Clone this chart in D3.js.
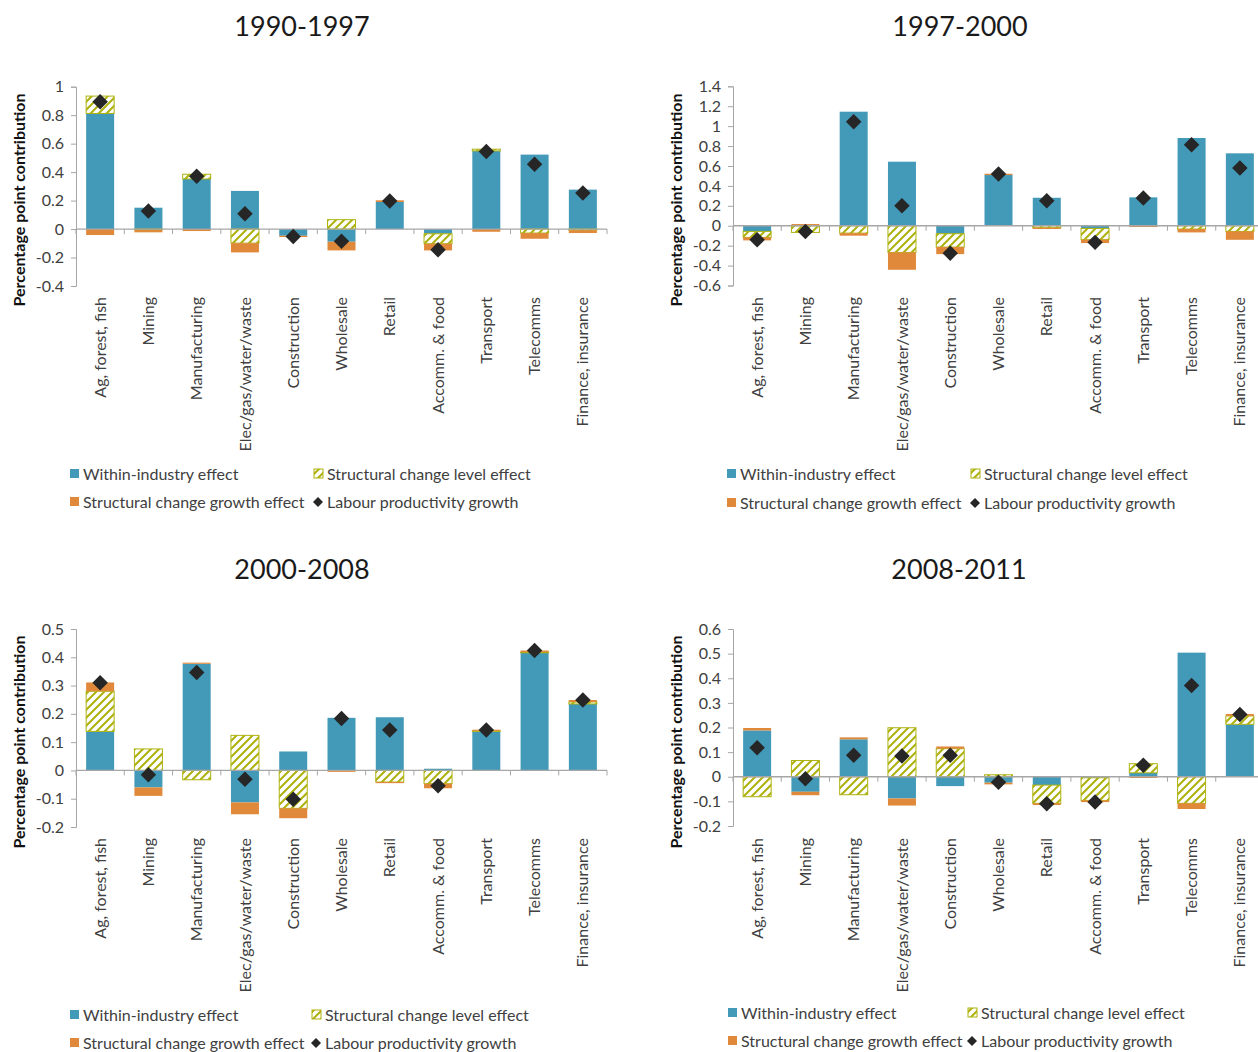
<!DOCTYPE html>
<html><head><meta charset="utf-8">
<script src="https://cdn.jsdelivr.net/npm/d3@7"></script>
<style>
body{margin:0;background:#fff;}
text{font-family:Lato,"Open Sans",sans-serif;}
</style></head>
<body><svg id="chart" width="1258" height="1052"></svg>
<script>
const categories = ["Ag, forest, fish","Mining","Manufacturing","Elec/gas/water/waste","Construction","Wholesale","Retail","Accomm. & food","Transport","Telecomms","Finance, insurance"];
const seriesNames = ["Within-industry effect","Structural change level effect","Structural change growth effect","Labour productivity growth"];
const periods = ["1990-1997","1997-2000","2000-2008","2008-2011"];

// 1990-1997
const within1 = [0.812,0.150,0.352,0.268,-0.047,-0.089,0.190,-0.033,0.549,0.523,0.277];
const level1  = [0.122,-0.004,0.033,-0.099,0,0.066,0,-0.070,0.012,-0.028,-0.009];
const growth1 = [-0.042,-0.019,-0.014,-0.065,-0.009,-0.061,0.012,-0.047,-0.019,-0.040,-0.019];
const lpg1    = [0.894,0.127,0.371,0.108,-0.052,-0.085,0.197,-0.146,0.545,0.455,0.254];
const ticks1  = [-0.4,-0.2,0,0.2,0.4,0.6,0.8,1];

// 1997-2000
const within2 = [-0.057,0,1.145,0.643,-0.080,0.509,0.281,-0.027,0.285,0.881,0.727];
const level2  = [-0.060,-0.067,-0.074,-0.268,-0.134,0,-0.020,-0.113,0,-0.033,-0.057];
const growth2 = [-0.030,0.017,-0.026,-0.174,-0.071,0.013,-0.013,-0.034,-0.013,-0.034,-0.084];
const lpg2    = [-0.141,-0.057,1.045,0.200,-0.275,0.519,0.251,-0.167,0.278,0.814,0.579];
const ticks2  = [-0.6,-0.4,-0.2,0,0.2,0.4,0.6,0.8,1,1.2,1.4];

// 2000-2008
const within3 = [0.138,-0.060,0.377,-0.113,0.067,0.186,0.188,0.006,0.138,0.416,0.235];
const level3  = [0.142,0.076,-0.033,0.124,-0.134,0,-0.041,-0.047,0.002,0.002,0.007];
const growth3 = [0.031,-0.030,0.004,-0.042,-0.035,-0.005,-0.004,-0.016,0.004,0.006,0.007];
const lpg3    = [0.310,-0.015,0.346,-0.031,-0.102,0.184,0.143,-0.054,0.143,0.424,0.249];
const ticks3  = [-0.2,-0.1,0,0.1,0.2,0.3,0.4,0.5];

// 2008-2011
const within4 = [0.188,-0.061,0.152,-0.088,-0.038,-0.024,-0.034,-0.004,0.016,0.504,0.213];
const level4  = [-0.081,0.066,-0.073,0.199,0.114,0.008,-0.074,-0.092,0.037,-0.108,0.034];
const growth4 = [0.010,-0.014,0.008,-0.029,0.009,-0.007,-0.007,-0.007,-0.005,-0.023,0.008];
const lpg4    = [0.118,-0.008,0.087,0.084,0.087,-0.022,-0.110,-0.103,0.047,0.371,0.253];
const ticks4  = [-0.2,-0.1,0,0.1,0.2,0.3,0.4,0.5,0.6];

const BLUE="#4399b8", OLIVE="#adb20f", ORANGE="#e0893a", DARK="#262626", AXIS="#a6a6a6", TXT="#404040";

const svg = d3.select("#chart");
const defs = svg.append("defs");
const pat = defs.append("pattern").attr("id","hatch").attr("patternUnits","userSpaceOnUse")
  .attr("width",8).attr("height",8);
pat.append("rect").attr("width",8).attr("height",8).attr("fill",OLIVE);
pat.append("path").attr("d","M-2,10 L10,-2 M-6,6 L6,-6 M2,14 L14,2")
  .attr("stroke","#fff").attr("stroke-width",3.6);

const panels = [
  {title:periods[0], w:within1,l:level1,g:growth1,p:lpg1,ticks:ticks1, x0:76,x1:607,yTop:86.7,yBot:286, tx:302, ty:36, ylabY:200, ylabX:19, labY:297, leg:{x:70,y1:474,y2:502,x2:314}},
  {title:periods[1], w:within2,l:level2,g:growth2,p:lpg2,ticks:ticks2, x0:733,x1:1264,yTop:86.3,yBot:285.5, tx:960, ty:36, ylabY:200, ylabX:676, labY:297, leg:{x:727,y1:474,y2:503,x2:971}},
  {title:periods[2], w:within3,l:level3,g:growth3,p:lpg3,ticks:ticks3, x0:76,x1:607,yTop:629,yBot:827, tx:302, ty:579, ylabY:742, ylabX:19, labY:838, leg:{x:70,y1:1015,y2:1043,x2:312}},
  {title:periods[3], w:within4,l:level4,g:growth4,p:lpg4,ticks:ticks4, x0:733,x1:1264,yTop:629,yBot:826, tx:959, ty:579, ylabY:742, ylabX:676, labY:838, leg:{x:728,y1:1013,y2:1041,x2:968}}
];

const fmt = v => String(+v.toFixed(2));

panels.forEach(P => {
  const g = svg.append("g");
  const x = d3.scaleBand().domain(categories).range([P.x0,P.x1]).paddingInner(0.42).paddingOuter(0.21);
  const y = d3.scaleLinear().domain([P.ticks[0], P.ticks[P.ticks.length-1]]).range([P.yBot,P.yTop]);

  g.append("text").attr("x",P.tx).attr("y",P.ty).attr("text-anchor","middle")
    .attr("font-size",27).attr("fill","#1a1a1a").text(P.title);

  const ya = g.append("g").attr("transform",`translate(${P.x0},0)`)
    .call(d3.axisLeft(y).tickValues(P.ticks).tickFormat(fmt).tickSize(5).tickPadding(7));
  ya.select(".domain").attr("stroke",AXIS);
  ya.selectAll(".tick line").attr("stroke",AXIS);
  ya.selectAll(".tick text").attr("font-size",16).attr("fill",TXT).attr("font-family","Lato");

  g.append("text").attr("transform",`translate(${P.ylabX},${P.ylabY}) rotate(-90)`)
    .attr("text-anchor","middle").attr("dy","0.35em").attr("font-size",16).attr("font-weight","bold")
    .attr("fill","#111").text("Percentage point contribution");

  const rows = categories.map((c,i)=>({cat:c, w:P.w[i], l:P.l[i], g:P.g[i]}));
  const stack = d3.stack().keys(["w","l","g"]).offset(d3.stackOffsetDiverging)(rows);
  const fills = {w:BLUE, l:"url(#hatch)", g:ORANGE};
  stack.forEach(s => {
    g.append("g").selectAll("rect").data(s).join("rect")
      .attr("x",d=>x(d.data.cat)).attr("width",x.bandwidth())
      .attr("y",d=>y(Math.max(d[0],d[1]))).attr("height",d=>Math.abs(y(d[0])-y(d[1])))
      .attr("fill",fills[s.key])
      .attr("stroke", s.key==="l" ? OLIVE : "none").attr("stroke-width", s.key==="l"?1:0);
  });

  const y0 = y(0);
  g.append("line").attr("x1",P.x0).attr("x2",P.x1).attr("y1",y0).attr("y2",y0).attr("stroke",AXIS).attr("stroke-width",1.3);
  const step = x.step();
  d3.range(categories.length+1).forEach(i=>{
    const xx = P.x0 + i*step;
    g.append("line").attr("x1",xx).attr("x2",xx).attr("y1",y0).attr("y2",y0+5).attr("stroke",AXIS);
  });

  g.append("g").selectAll("path").data(categories).join("path")
    .attr("d", d3.symbol().type(d3.symbolSquare).size(120))
    .attr("transform",(c,i)=>`translate(${x(c)+x.bandwidth()/2},${y(P.p[i])}) rotate(45)`)
    .attr("fill",DARK);

  g.append("g").selectAll("text").data(categories).join("text")
    .attr("transform",d=>`translate(${x(d)+x.bandwidth()/2},${P.labY}) rotate(-90)`)
    .attr("text-anchor","end").attr("dy","0.35em").attr("font-size",16).attr("fill",TXT).text(d=>d);

  const L = P.leg;
  const lg = g.append("g").attr("font-size",16).attr("fill",TXT);
  lg.append("rect").attr("x",L.x).attr("y",L.y1-5).attr("width",9).attr("height",9).attr("fill",BLUE);
  lg.append("text").attr("x",L.x+13).attr("y",L.y1).attr("dy","0.35em").text(seriesNames[0]);
  lg.append("rect").attr("x",L.x2).attr("y",L.y1-5).attr("width",9).attr("height",9).attr("fill","url(#hatch)").attr("stroke",OLIVE);
  lg.append("text").attr("x",L.x2+13).attr("y",L.y1).attr("dy","0.35em").text(seriesNames[1]);
  lg.append("rect").attr("x",L.x).attr("y",L.y2-5).attr("width",9).attr("height",9).attr("fill",ORANGE);
  lg.append("text").attr("x",L.x+13).attr("y",L.y2).attr("dy","0.35em").text(seriesNames[2]);
  lg.append("path").attr("d",d3.symbol().type(d3.symbolSquare).size(50)).attr("transform",`translate(${L.x2+4},${L.y2}) rotate(45)`).attr("fill",DARK);
  lg.append("text").attr("x",L.x2+13).attr("y",L.y2).attr("dy","0.35em").text(seriesNames[3]);
});
</script></body></html>
